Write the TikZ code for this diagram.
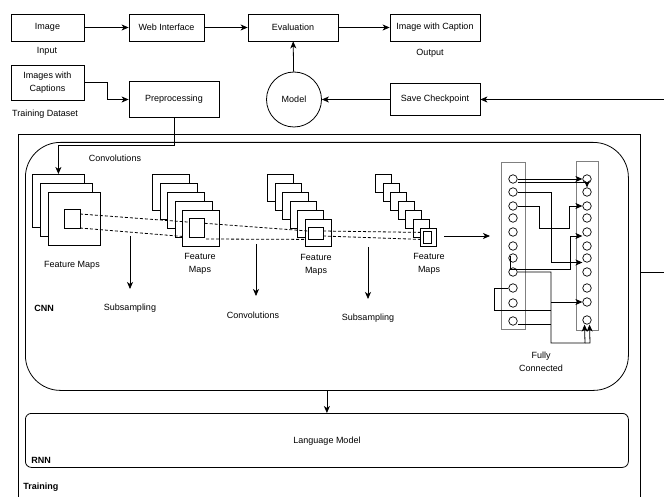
\documentclass[tikz,border=0pt]{standalone}
\usepackage{fontspec}
\setmainfont{Liberation Sans}
\usetikzlibrary{arrows.meta}
\begin{document}
\begin{tikzpicture}[x=1pt,y=-1pt,line width=0.8pt,
  font=\fontsize{9}{13}\selectfont,
  box/.style={draw, inner sep=0pt, align=center},
  arr/.style={-{Stealth[length=7pt,width=6pt,inset=2pt]}},
  fmap/.style={draw, fill=white, inner sep=0pt, anchor=north west},
  inbox/.style={draw, fill=white, inner sep=0pt},
  neu/.style={draw, circle, minimum size=8.5pt, inner sep=0pt, line width=0.7pt},
  col/.style={draw=gray, inner sep=0pt, line width=1pt},
  lbl/.style={inner sep=0pt, align=center},
  bl/.style={inner sep=0pt, anchor=west, font=\fontsize{9}{13}\selectfont\bfseries},
  dsh/.style={dash pattern=on 3pt off 2pt, line width=0.8pt}
]
\useasboundingbox (0,0) rectangle (664,497);

% ---- top row ----
\node[box, minimum width=73pt, minimum height=27pt] (img) at (47.5,27.5) {Image};
\node[lbl] (inp) at (47,51) {Input};
\node[box, minimum width=75pt, minimum height=27pt] (web) at (166.5,27.5) {Web Interface};
\node[box, minimum width=90pt, minimum height=27pt] (eval) at (293,27.5) {Evaluation};
\node[box, minimum width=90pt, minimum height=27pt] (iwc) at (435,27.5) {Image with Caption};
\node[lbl] (outp) at (430,53) {Output};
\node[box, minimum width=73pt, minimum height=35pt] (imc) at (47.5,82.5) {Images with\\Captions};
\node[lbl] (tds) at (45,114) {Training Dataset};
\node[box, minimum width=90pt, minimum height=36pt] (prep) at (174,99.5) {Preprocessing};
\node[draw, circle, minimum size=55pt, inner sep=0pt] (model) at (294,99.5) {Model};
\node[box, minimum width=90pt, minimum height=32pt] (save) at (435,99.5) {Save Checkpoint};
\coordinate (rin) at (664,99.5);

\draw[arr] (img) -- (web);
\draw[arr] (web) -- (eval);
\draw[arr] (eval) -- (iwc);
\draw[arr] (model) -- (eval);
\draw[arr] (save) -- (model);
\draw[arr] (rin) -- (save);
\draw[arr] (imc.east) -- (107,82.5) |- (prep.west);

% ---- training container ----
\node[draw, minimum width=622pt, minimum height=380pt, anchor=north west, inner sep=0pt] (train) at (18,134) {};
\node[bl] (trl) at (23,487) {Training};
\coordinate (rout) at (664,272);
\draw (640,272) -- (rout);

\node[draw, rounded corners=35pt, minimum width=603pt, minimum height=248pt, anchor=north west, inner sep=0pt] (cnn) at (25,142) {};
\node[bl] (cnnl) at (34,308) {CNN};
\node[draw, rounded corners=6pt, minimum width=603pt, minimum height=54pt, anchor=north west, inner sep=0pt] (lm) at (25,413) {};
\node[lbl] (lml) at (327,441) {Language Model};
\node[bl] (rnnl) at (31,460) {RNN};
\draw[arr] (cnn.south) -- (lm.north);

% ---- feature maps ----
\foreach \i in {0,1,2}
  \node[fmap, minimum width=52pt, minimum height=53pt] (g1s\i) at ({32+8*\i},{174+9*\i}) {};
\foreach \i in {0,...,4}
  \node[fmap, minimum width=37pt, minimum height=36pt] (g2s\i) at ({152+7.5*\i},{174+9*\i}) {};
\foreach \i in {0,...,5}
  \node[fmap, minimum width=26pt, minimum height=27pt] (g3s\i) at ({267+7.6*\i},{174+9*\i}) {};
\foreach \i in {0,...,6}
  \node[fmap, minimum width=16pt, minimum height=18pt] (g4s\i) at ({375+7.5*\i},{174+9*\i}) {};

\draw[arr] (prep.south) -- (174,145) -| (g1s0.north);
\node[lbl] (conv0) at (115,158) {Convolutions};

% dashed projections
\draw[dsh] (80,214) -- (308,231);
\draw[dsh] (80,228) -- ([yshift=-8pt]g2s4.west);
\draw[dsh] (206,239) -- ([yshift=-6.5pt]g3s5.west);
\draw[dsh] (323,231) -- ([yshift=5pt]g4s6.west);
\draw[dsh] (323,236) -- ([yshift=-2pt]g4s6.west);

\node[inbox, minimum width=16pt, minimum height=19pt] (in1) at (72,218.5) {};
\node[inbox, minimum width=15pt, minimum height=19pt] (in2) at (196.5,227.5) {};
\node[inbox, minimum width=15pt, minimum height=12pt] (in3) at (315.5,233) {};
\node[inbox, minimum width=8pt, minimum height=12pt] (in4) at (427,237) {};

\node[lbl] (fm1) at (72,265) {Feature Maps};
\node[lbl] (fm2) at (200,263.5) {Feature\\Maps};
\node[lbl] (fm3) at (316,264.5) {Feature\\Maps};
\node[lbl] (fm4) at (429,263.5) {Feature\\Maps};

\coordinate (a1s) at (130,236); \coordinate (a1e) at (130,289);
\coordinate (a2s) at (256,244); \coordinate (a2e) at (256,296);
\coordinate (a3s) at (368,247); \coordinate (a3e) at (368,299);
\draw[arr] (a1s) -- (a1e);
\draw[arr] (a2s) -- (a2e);
\draw[arr] (a3s) -- (a3e);
\node[lbl] (sub1) at (130,308) {Subsampling};
\node[lbl] (conv1) at (253,315) {Convolutions};
\node[lbl] (sub2) at (368,318) {Subsampling};

% ---- fully connected ----
\node[col, minimum width=24pt, minimum height=166pt] (fcl) at (513,246) {};
\node[col, minimum width=22pt, minimum height=168pt] (fcr) at (587,246) {};
\coordinate (fcs) at (444,236); \coordinate (fce) at (490,236);
\draw[arr] (fcs) -- (fce);

\foreach \y [count=\k] in {179,192,206,218,232,246,258,272,288,303,321}
  \node[neu] (l\k) at (513,\y) {};
\foreach \y [count=\k] in {179,192,206,218,232,246,258,272,288,302,320}
  \node[neu] (r\k) at (587,\y) {};

\draw[arr] (l1.east) -- (r1.west);
\draw[arr] ([yshift=-3pt]l1.east) -| (r2.north);
\draw[arr] (l2.east) -- (551,192) -- (551,262.5) -- ([yshift=-4.5pt]r7.west);
\draw[arr] (l3.east) -- (539,206) -- (539,228) -- (569,228) |- (r3.west);
\draw[arr] ([shift={(-3pt,2pt)}]l7.center) -- (510,269) -- (570,269) |- ([yshift=-4pt]r5.west);
\draw[arr] (l8.east) -- (551,272) -- (551,343) -- (585,343) -- ([xshift=-2.5pt]r11.south);
\draw (l9.west) -- (494,288) -- (494,310) -- (551,310);
\draw[arr] (551,302) -- (r10.west);
\draw ([yshift=-3pt]l11.east) -- (551,324);
\draw[arr] (585,343) -- (590,343) -- ([xshift=2.5pt]r11.south);

\node[lbl] (fcl2) at (541,362) {Fully\\Connected};
\end{tikzpicture}
\end{document}
